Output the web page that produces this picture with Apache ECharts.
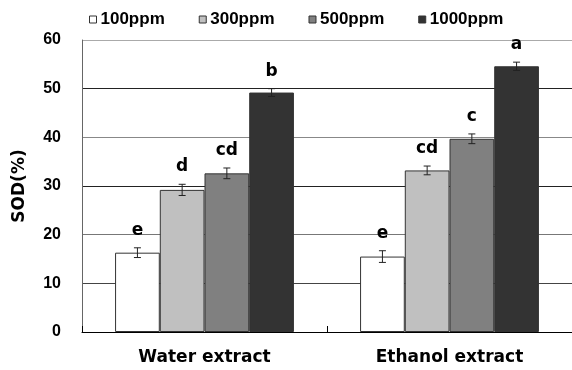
<!DOCTYPE html>
<html>
<head>
<meta charset="utf-8">
<script src="https://cdn.jsdelivr.net/npm/echarts@6/dist/echarts.min.js"></script>
<style>
  html, body { margin: 0; padding: 0; background: #fff; }
  #main { width: 572px; height: 370px; }
</style>
</head>
<body>
<div id="main"></div>
<script>
// data
var categories = ['Water extract', 'Ethanol extract'];
var seriesNames = ['100ppm', '300ppm', '500ppm', '1000ppm'];
var values100 = [16.3, 15.5];
var values300 = [29.2, 33.2];
var values500 = [32.6, 39.7];
var values1000 = [49.2, 54.6];
var errors100 = [1.0, 1.2];
var errors300 = [1.15, 0.9];
var errors500 = [1.1, 1.0];
var errors1000 = [0.8, 0.85];
var letters100 = ['e', 'e'];
var letters300 = ['d', 'cd'];
var letters500 = ['cd', 'c'];
var letters1000 = ['b', 'a'];
var yTicks = [0, 10, 20, 30, 40, 50, 60];

var allValues = [values100, values300, values500, values1000];
var allErrors = [errors100, errors300, errors500, errors1000];
var allLetters = [letters100, letters300, letters500, letters1000];
var barColors = ['#ffffff', '#c0c0c0', '#808080', '#333333'];
var barGapPct = 0.27;

var myChart = echarts.init(document.getElementById('main'));

// error bar + letter items: [catIndex, value, err, seriesIndex, letter]
var errData = [];
for (var s = 0; s < allValues.length; s++) {
    for (var c = 0; c < categories.length; c++) {
        errData.push([c, allValues[s][c], allErrors[s][c], s, allLetters[s][c]]);
    }
}

function renderErr(params, api) {
    var c = api.value(0);
    var v = api.value(1);
    var e = api.value(2);
    var s = api.value(3);
    var letter = errData[params.dataIndex][4];
    var band = api.size([1, 0])[0];
    var bw = band * (1 - barGapPct) / seriesNames.length;
    var center = api.coord([c, v])[0];
    var x = center + (s - (seriesNames.length - 1) / 2) * bw;
    var top = api.coord([c, v + e])[1];
    var bot = api.coord([c, v - e])[1];
    var cap = 3.5;
    var st = { stroke: '#222', lineWidth: 1 };
    return {
        type: 'group',
        children: [
            { type: 'line', shape: { x1: x, y1: top, x2: x, y2: bot }, style: st },
            { type: 'line', shape: { x1: x - cap, y1: top, x2: x + cap, y2: top }, style: st },
            { type: 'line', shape: { x1: x - cap, y1: bot, x2: x + cap, y2: bot }, style: st },
            {
                type: 'text',
                style: {
                    text: letter,
                    x: x,
                    y: top - 9,
                    align: 'center',
                    verticalAlign: 'bottom',
                    fill: '#000',
                    font: 'bold 17px "DejaVu Sans"'
                }
            }
        ]
    };
}

var barSeries = seriesNames.map(function (name, i) {
    return {
        name: name,
        type: 'bar',
        data: allValues[i],
        barGap: '0%',
        barCategoryGap: (barGapPct * 100) + '%',
        itemStyle: {
            color: barColors[i],
            borderColor: '#333',
            borderWidth: 1
        },
        z: 2
    };
});

var option = {
    animation: false,
    backgroundColor: '#fff',
    color: barColors,
    legend: {
        data: seriesNames,
        left: 84,
        top: 6,
        itemWidth: 7,
        itemHeight: 7,
        itemGap: 34,
        icon: 'rect',
        itemStyle: { borderColor: '#333', borderWidth: 1 },
        textStyle: {
            fontFamily: '"Liberation Sans", Arial',
            fontWeight: 'bold',
            fontSize: 17,
            color: '#000',
            padding: [0, 0, 0, -1]
        }
    },
    grid: {
        left: 82,
        right: -2,
        top: 40,
        bottom: 38
    },
    xAxis: {
        type: 'category',
        data: categories,
        axisLine: { lineStyle: { color: '#000', width: 1 } },
        axisTick: { show: true, inside: true, length: 6, lineStyle: { color: '#000' } },
        axisLabel: {
            margin: 17,
            fontFamily: '"DejaVu Sans"',
            fontWeight: 'bold',
            fontSize: 17,
            color: '#000'
        }
    },
    yAxis: {
        type: 'value',
        min: yTicks[0],
        max: yTicks[yTicks.length - 1],
        interval: 10,
        name: 'SOD(%)',
        nameLocation: 'middle',
        nameGap: 54,
        nameTextStyle: {
            fontFamily: '"DejaVu Sans"',
            fontWeight: 'bold',
            fontSize: 17,
            color: '#000'
        },
        axisLine: { show: true, lineStyle: { color: '#666' } },
        axisTick: { show: false },
        axisLabel: {
            margin: 21,
            fontFamily: '"Liberation Sans", Arial',
            fontWeight: 'bold',
            fontSize: 16,
            color: '#000'
        },
        splitLine: {
            show: true,
            lineStyle: {
                color: ['#000', '#444', '#777', '#222', '#888', '#222', '#aaa'],
                width: 1
            }
        }
    },
    series: barSeries.concat([{
        type: 'custom',
        name: 'err',
        renderItem: renderErr,
        data: errData,
        encode: { x: 0, y: 1 },
        z: 5,
        silent: true
    }])
};

myChart.setOption(option);
</script>
</body>
</html>
